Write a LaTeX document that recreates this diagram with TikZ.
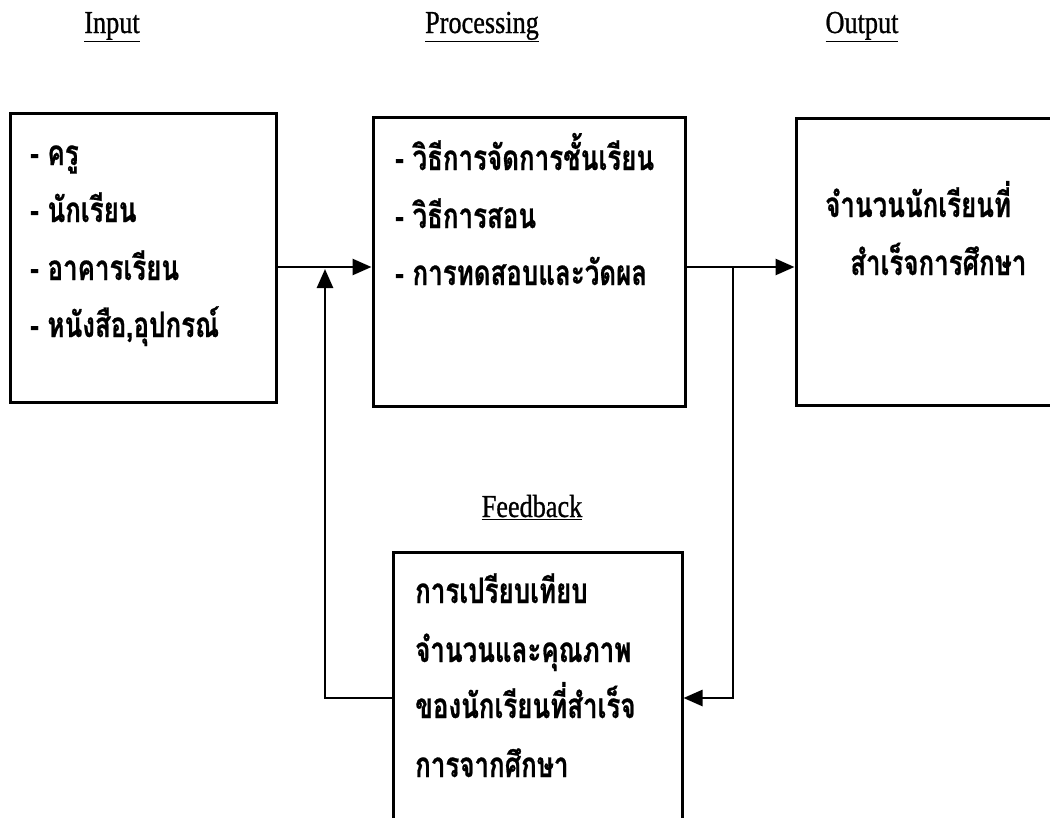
\documentclass[tikz,border=0pt]{standalone}
\usepackage{fontspec}
\setmainfont{Liberation Serif}
\newfontfamily\thaifont[Script=Thai, FakeStretch=0.74, BoldFeatures={FakeBold=0.6}]{Loma}
\newfontfamily\headfont[FakeStretch=0.82, FakeBold=0.8]{Liberation Serif}
\usetikzlibrary{arrows.meta}

\begin{document}
\begin{tikzpicture}[x=1pt, y=-1pt,
  box/.style={draw, line width=3pt, rectangle, inner sep=0pt},
  head/.style={font=\headfont\fontsize{32}{38}\selectfont, anchor=base, inner sep=0pt},
  thai/.style={font=\thaifont\bfseries\fontsize{35}{40}\selectfont, anchor=base west, inner sep=0pt},
  link/.style={line width=2.6pt},
  arr/.style={link, -{Triangle[length=19pt, width=16pt]}}]

  \useasboundingbox (0,0) rectangle (1050,817);
  \clip (0,0) rectangle (1050,817);

  % column headings
  \node[head] (hin)   at (112,33) {\underline{Input}};
  \node[head] (hproc) at (482,33) {\underline{Processing}};
  \node[head] (hout)  at (862,33) {\underline{Output}};
  \node[head] (hfb)   at (532,517) {\underline{Feedback}};

  % boxes
  \node[box, minimum width=266pt, minimum height=289pt] (inbox)   at (143,257.5) {};
  \node[box, minimum width=312pt, minimum height=289pt] (procbox) at (529,261.5) {};
  \node[box, minimum width=274pt, minimum height=287pt] (outbox)  at (933,261.5) {};
  \node[box, minimum width=289pt, minimum height=288pt] (fbbox)   at (537.5,696) {};

  % input items
  \node[thai] (in1) at (30,165) {- ครู};
  \node[thai] (in2) at (30,222) {- นักเรียน};
  \node[thai] (in3) at (30,280) {- อาคารเรียน};
  \node[thai] (in4) at (30,337) {- หนังสือ,อุปกรณ์};

  % processing items
  \node[thai] (pr1) at (395,170) {- วิธีการจัดการชั้นเรียน};
  \node[thai] (pr2) at (395,228) {- วิธีการสอน};
  \node[thai] (pr3) at (395,285) {- การทดสอบและวัดผล};

  % output text
  \node[thai] (ou1) at (825,217) {จำนวนนักเรียนที่};
  \node[thai] (ou2) at (850,275) {สำเร็จการศึกษา};

  % feedback text
  \node[thai] (fb1) at (415,603) {การเปรียบเทียบ};
  \node[thai] (fb2) at (415,662) {จำนวนและคุณภาพ};
  \node[thai] (fb3) at (415,718) {ของนักเรียนที่สำเร็จ};
  \node[thai] (fb4) at (415,777) {การจากศึกษา};

  % flow
  \coordinate (row)  at (0,267);
  \coordinate (tap)  at (733,267);
  \coordinate (tapd) at (733,698);
  \coordinate (ret)  at (325,698);
  \coordinate (retu) at (325,269);

  \draw[arr] (inbox.east |- row) -- (procbox.west |- row);
  \draw[arr] (procbox.east |- row) -- (outbox.west |- row);
  \draw[arr] (tap) -- (tapd) -- (fbbox.east |- tapd);
  \draw[arr] (fbbox.west |- tapd) -- (ret) -- (retu);
\end{tikzpicture}
\end{document}
